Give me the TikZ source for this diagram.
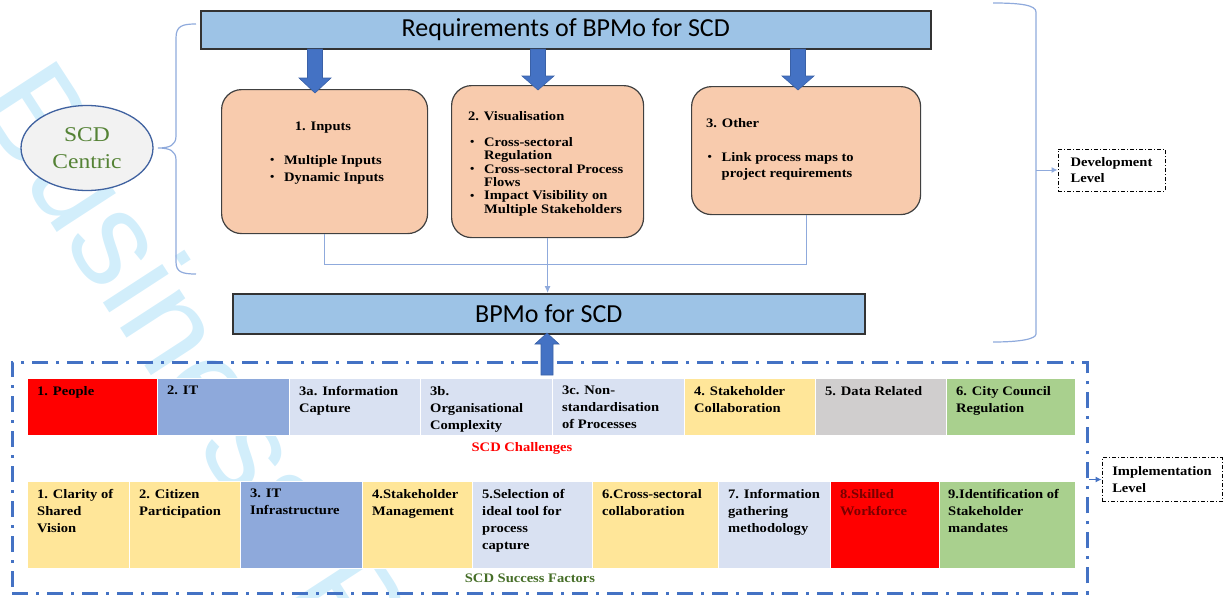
\documentclass[tikz,border=0pt]{standalone}
\usepackage{fontspec}
\setmainfont{Liberation Serif}[FakeStretch=1.12]
\newfontfamily\headfont{Carlito}
\newfontfamily\markfont{Liberation Sans}
\usetikzlibrary{arrows.meta,shapes.geometric}

\definecolor{hdrblue}{RGB}{157,195,230}
\definecolor{peach}{RGB}{248,203,173}
\definecolor{arrowblue}{RGB}{68,114,196}
\definecolor{linkblue}{RGB}{143,170,220}
\definecolor{cred}{RGB}{255,0,0}
\definecolor{cblue}{RGB}{142,169,219}
\definecolor{clight}{RGB}{217,225,242}
\definecolor{cyellow}{RGB}{255,230,153}
\definecolor{cgray}{RGB}{208,206,206}
\definecolor{cgreen}{RGB}{169,208,142}
\definecolor{scdgreen}{RGB}{84,130,53}
\definecolor{succgreen}{RGB}{70,110,40}
\definecolor{wmcyan}{RGB}{210,238,251}
\definecolor{ellborder}{RGB}{64,98,160}
\definecolor{darkred}{RGB}{120,0,0}

% bullet item and its hanging indent
\newcommand\itm[1]{\makebox[14pt][l]{\raisebox{0.6pt}{\fontsize{11}{11}\selectfont •}}#1}
\newcommand\hang{\hspace*{14pt}}

% block arrow: x, start y, head base y, tip y, shaft half width, head half width
\newcommand\blkarrow[6]{%
  \fill[arrowblue, draw=arrowblue!85!black, line width=0.6pt]
    (#1-#5,#2) -- (#1+#5,#2) -- (#1+#5,#3) -- (#1+#6,#3) -- (#1,#4)
    -- (#1-#6,#3) -- (#1-#5,#3) -- cycle;}

\begin{document}
\begin{tikzpicture}[x=1pt,y=-1pt,
  hdrbox/.style={draw=black!80, line width=1.5pt, fill=hdrblue, anchor=north west,
    inner sep=0pt, font=\headfont\fontsize{26}{30}\selectfont},
  reqbox/.style={draw=black!75, line width=1.2pt, fill=peach, rounded corners=20pt,
    anchor=north west, inner sep=0pt},
  btext/.style={anchor=north west, inner sep=0pt, align=left,
    font=\bfseries\fontsize{13}{17}\selectfont},
  cell/.style={draw=white, line width=1pt, anchor=north west, inner sep=0pt},
  link/.style={draw=linkblue, line width=1pt},
  brace/.style={draw=linkblue, line width=1.2pt},
  levelbox/.style={draw=black, line width=0.9pt, dash pattern=on 4pt off 2pt on 1pt off 2pt,
    align=left, inner sep=0pt, font=\bfseries\fontsize{13}{16.5}\selectfont},
  frame/.style={draw=arrowblue, line width=2.8pt, dash pattern=on 16pt off 8pt on 3pt off 8pt,
    anchor=north west, inner sep=0pt},
  tip/.style={-{Latex[length=7pt,width=6pt]}}
]
\useasboundingbox (0,0) rectangle (1223,597);

% faint watermark lettering behind everything
\begin{scope}
  \clip (0,0) rectangle (1223,597);
  \node[rotate=-57, anchor=base west, inner sep=0pt, text=wmcyan,
    font=\markfont\fontsize{134}{134}\selectfont] (wm) at (-27,102) {Business Process};
\end{scope}

% left brace and SCD Centric ellipse
\draw[brace] (196,24) .. controls (182,24) and (176,26) .. (176,38) -- (176,136)
  .. controls (176,145) and (170,148) .. (158,148)
  .. controls (170,148) and (176,151) .. (176,160) -- (176,262)
  .. controls (176,272) and (182,274) .. (196,274);
\node[ellipse, draw=ellborder, line width=1.3pt, fill=black!5, minimum width=132pt,
  minimum height=85pt, inner sep=0pt, align=center, text=scdgreen,
  font=\fontsize{21}{27}\selectfont] (scd) at (87,148) {SCD\\Centric};

% requirements header and the three requirement boxes
\node[hdrbox, minimum width=730pt, minimum height=38pt] (hdr) at (200,10) {Requirements of BPMo for SCD};

\node[reqbox, minimum width=206pt, minimum height=144pt] (box1) at (221,89) {};
\node[reqbox, minimum width=192pt, minimum height=152pt] (box2) at (451,85) {};
\node[reqbox, minimum width=229pt, minimum height=128pt] (box3) at (691,86) {};

\node[btext, anchor=north] (b1title) at (323,122) {1. Inputs};
\node[btext] (b1list) at (270,155) {\itm{Multiple Inputs}\\\itm{Dynamic Inputs}};

\node[btext] (b2title) at (468,111) {2. Visualisation};
\node[btext, font=\bfseries\fontsize{13}{13.4}\selectfont] (b2list) at (470,137)
  {\itm{Cross-sectoral}\\\hang Regulation\\\itm{Cross-sectoral Process}\\\hang Flows\\
   \itm{Impact Visibility on}\\\hang Multiple Stakeholders};

\node[btext] (b3title) at (706,118) {3. Other};
\node[btext, font=\bfseries\fontsize{13}{16}\selectfont] (b3list) at (707.5,152)
  {\itm{Link process maps to}\\\hang project requirements};

% block arrows from the header into the boxes
\blkarrow{315}{49}{78}{93}{7.5}{16}
\blkarrow{538}{49}{76}{90}{7.5}{16}
\blkarrow{798}{49}{76}{90}{7.5}{16}

% joining lines down to the BPMo box
\node[hdrbox, minimum width=632pt, minimum height=40pt] (bpmo) at (232,293) {BPMo for SCD};
\draw[link] (box1.south) -- ++(0,30) -| (box3.south);
\draw[link, tip] (box2.south) -- (box2.south |- bpmo.north);

% right bracket of the development level
\draw[brace] (993,3) .. controls (1020,3) and (1036,5) .. (1036,12) -- (1036,334)
  .. controls (1036,339) and (1020,342) .. (993,342);
\coordinate (devjoin) at (1036,170);
\node[levelbox, minimum width=107pt, minimum height=42pt] (dev) at (1111.5,170) {Development\\Level};
\draw[link, -{Latex[length=6pt,width=6pt]}, draw=linkblue] (devjoin) -- (dev.west);

% implementation frame
\node[frame, minimum width=1075pt, minimum height=231pt] (impframe) at (11,361) {};
\node[levelbox, minimum width=120pt, minimum height=44pt] (impl) at (1162,479.5) {Implementation\\Level};
\draw[link, draw=arrowblue, -{Latex[length=6pt,width=6pt]}] (impframe.east |- impl.west) -- (impl.west);

% challenges row
\node[cell, fill=cred,    minimum width=130pt, minimum height=57pt] (ch1)  at (27,378) {};
\node[cell, fill=cblue,   minimum width=132pt, minimum height=57pt] (ch2)  at (157,378) {};
\node[cell, fill=clight,  minimum width=131pt, minimum height=57pt] (ch3a) at (289,378) {};
\node[cell, fill=clight,  minimum width=132pt, minimum height=57pt] (ch3b) at (420,378) {};
\node[cell, fill=clight,  minimum width=132pt, minimum height=57pt] (ch3c) at (552,378) {};
\node[cell, fill=cyellow, minimum width=131pt, minimum height=57pt] (ch4)  at (684,378) {};
\node[cell, fill=cgray,   minimum width=131pt, minimum height=57pt] (ch5)  at (815,378) {};
\node[cell, fill=cgreen,  minimum width=129pt, minimum height=57pt] (ch6)  at (946,378) {};

\node[btext] (ch1t)  at (37,386)  {1. People};
\node[btext] (ch2t)  at (167,386) {2. IT};
\node[btext] (ch3at) at (299,386) {3a. Information\\Capture};
\node[btext] (ch3bt) at (430,386) {3b.\\Organisational\\Complexity};
\node[btext] (ch3ct) at (562,386) {3c. Non-\\standardisation\\of Processes};
\node[btext] (ch4t)  at (694,386) {4. Stakeholder\\Collaboration};
\node[btext] (ch5t)  at (825,386) {5. Data Related};
\node[btext] (ch6t)  at (956,386) {6. City Council\\Regulation};

\node[btext, anchor=center, text=cred] (chal) at (522,448) {SCD Challenges};

% success factors row
\node[cell, fill=cyellow, minimum width=102pt, minimum height=87pt] (sf1) at (27,481) {};
\node[cell, fill=cyellow, minimum width=111pt, minimum height=87pt] (sf2) at (129,481) {};
\node[cell, fill=cblue,   minimum width=122pt, minimum height=87pt] (sf3) at (240,481) {};
\node[cell, fill=cyellow, minimum width=110pt, minimum height=87pt] (sf4) at (362,481) {};
\node[cell, fill=clight,  minimum width=120pt, minimum height=87pt] (sf5) at (472,481) {};
\node[cell, fill=cyellow, minimum width=126pt, minimum height=87pt] (sf6) at (592,481) {};
\node[cell, fill=clight,  minimum width=112pt, minimum height=87pt] (sf7) at (718,481) {};
\node[cell, fill=cred,    minimum width=109pt, minimum height=87pt] (sf8) at (830,481) {};
\node[cell, fill=cgreen,  minimum width=136pt, minimum height=87pt] (sf9) at (939,481) {};

\node[btext] (sf1t) at (37,489)  {1. Clarity of\\Shared\\Vision};
\node[btext] (sf2t) at (139,489) {2. Citizen\\Participation};
\node[btext] (sf3t) at (250,489) {3. IT\\Infrastructure};
\node[btext] (sf4t) at (372,489) {4.Stakeholder\\Management};
\node[btext] (sf5t) at (482,489) {5.Selection of\\ideal tool for\\process\\capture};
\node[btext] (sf6t) at (602,489) {6.Cross-sectoral\\collaboration};
\node[btext] (sf7t) at (728,489) {7. Information\\gathering\\methodology};
\node[btext, text=darkred] (sf8t) at (840,489) {8.Skilled\\Workforce};
\node[btext] (sf9t) at (948,489) {9.Identification of\\Stakeholder\\mandates};

\node[btext, anchor=center, text=succgreen] (succ) at (530,578) {SCD Success Factors};

% block arrow from the frame up to the BPMo box
\blkarrow{547}{375}{344}{333}{6}{12}
\end{tikzpicture}
\end{document}
